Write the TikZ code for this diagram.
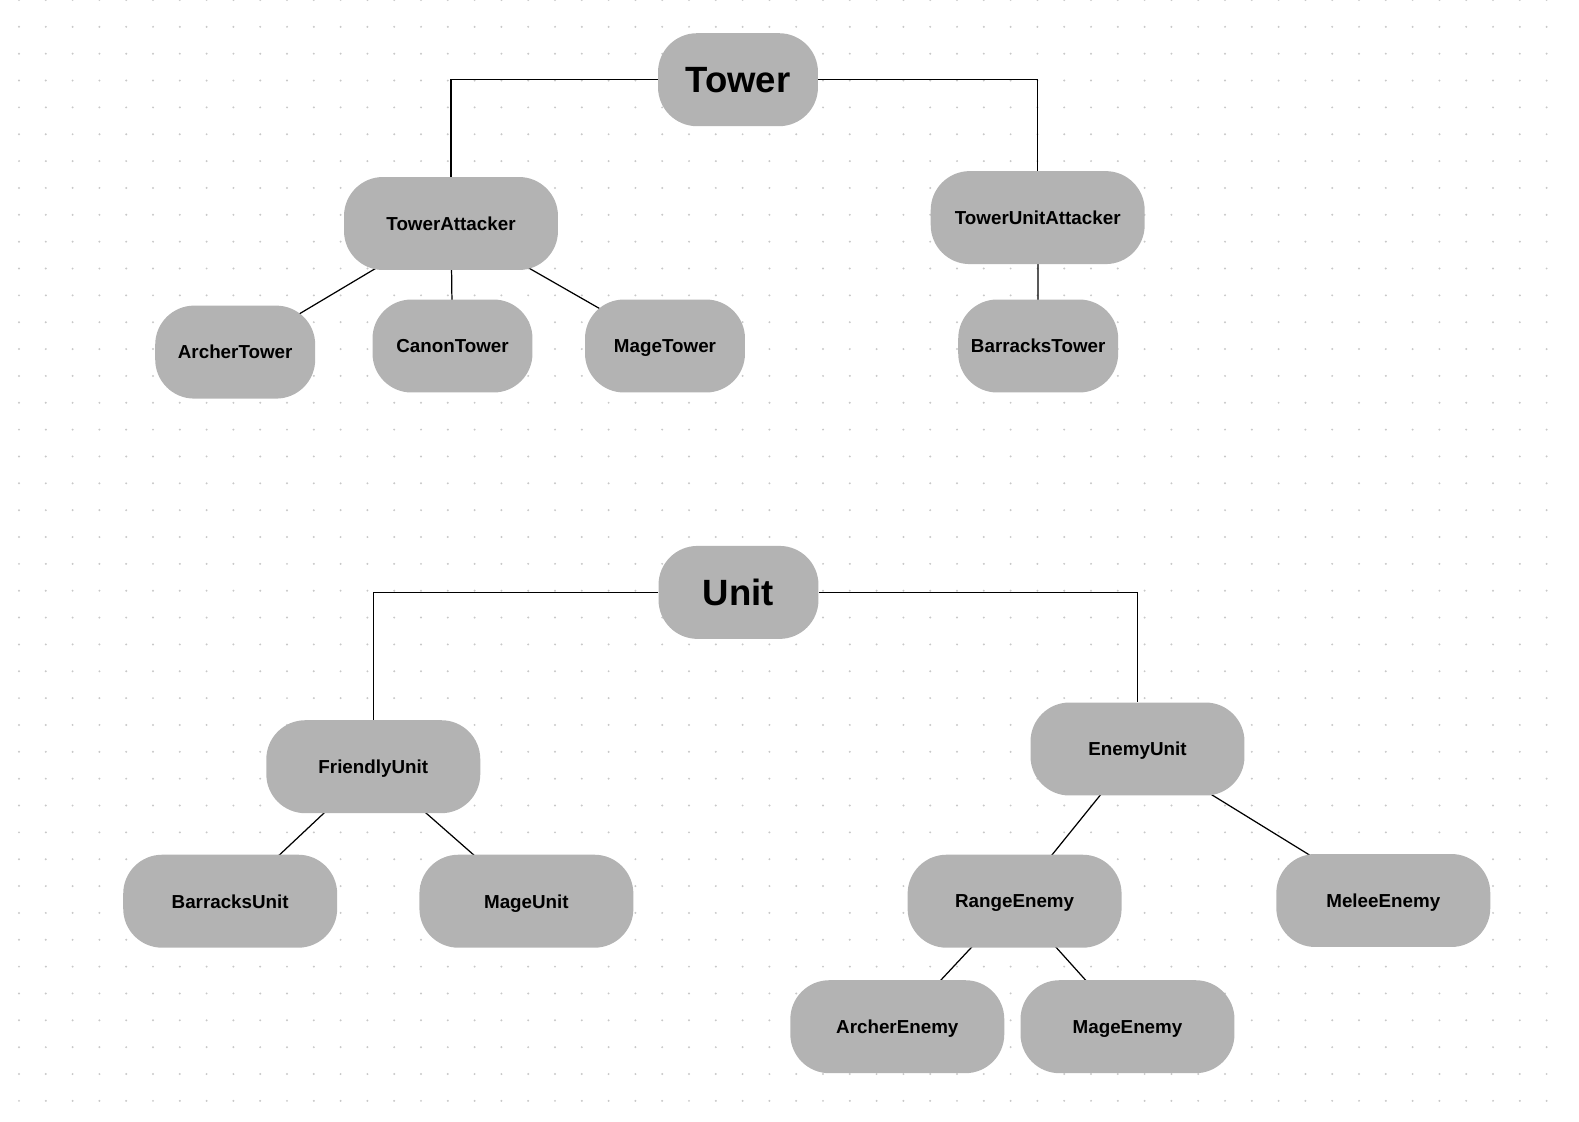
\documentclass[tikz,border=0pt]{standalone}
\usepackage{fontspec}
\setmainfont{Liberation Sans}
\usepackage{tikz}
\usetikzlibrary{backgrounds}
\definecolor{boxgray}{RGB}{179,179,179}
\definecolor{dotgray}{RGB}{200,200,200}

\begin{document}
\begin{tikzpicture}[x=0.02cm,y=-0.02cm,
                box/.style={fill=boxgray, rounded corners=0.78cm, inner sep=0pt, text depth=0pt,
                  minimum height=1.86cm, font=\bfseries\fontsize{10.7}{12}\selectfont},
                wbox/.style={box, minimum width=4.28cm},  % the wide boxes
                nbox/.style={box, minimum width=3.2cm},   % the narrow boxes
                root/.style={nbox, font=\bfseries\fontsize{20.8}{24}\selectfont},
                link/.style={line width=0.7pt}
                ]
  \useasboundingbox (0,0) rectangle (1579,1122);
  % towers
  \node [root] (tower) at (738,79.7) {Tower};
  \node [wbox] (ta) at (451,223.5) {TowerAttacker};
  \node [wbox] (tua) at (1037.7,217.6) {TowerUnitAttacker};
  \node [nbox] (archt) at (235.2,352.1) {ArcherTower};
  \node [nbox] (canont) at (452.5,346) {CanonTower};
  \node [nbox] (maget) at (665,346) {MageTower};
  \node [nbox] (barrt) at (1038.2,346) {BarracksTower};
  % units
  \node [root] (unit) at (738.5,592.4) {Unit};
  \node [wbox] (fu) at (373.3,766.7) {FriendlyUnit};
  \node [wbox] (eu) at (1137.5,749) {EnemyUnit};
  \node [wbox] (barru) at (230.2,901.2) {BarracksUnit};
  \node [wbox] (mageu) at (526.4,901.2) {MageUnit};
  \node [wbox] (range) at (1014.6,901.2) {RangeEnemy};
  \node [wbox] (melee) at (1383.3,900.5) {MeleeEnemy};
  \node [wbox] (archer) at (897.3,1026.7) {ArcherEnemy};
  \node [wbox] (mage) at (1127.5,1026.7) {MageEnemy};
  \begin{scope}[on background layer]
    % dotted paper
    \foreach \i in {0,...,57}
      \foreach \j in {0,...,41}
        \fill [dotgray] (19+26.8*\i,26.85*\j) circle (0.022cm);
    \draw [link] (tower.west) -| (ta.north);
    \draw [link] (tower.east) -| (tua.north);
    \draw [link] (unit.west) -| (fu.north);
    \draw [link] (unit.east) -| (eu.north);
    \foreach \a/\b in {ta/archt, ta/canont, ta/maget, tua/barrt,
                       fu/barru, fu/mageu, eu/range, eu/melee,
                       range/archer, range/mage}
      \draw [link] (\a.center) -- (\b.center);
  \end{scope}
\end{tikzpicture}
\end{document}
